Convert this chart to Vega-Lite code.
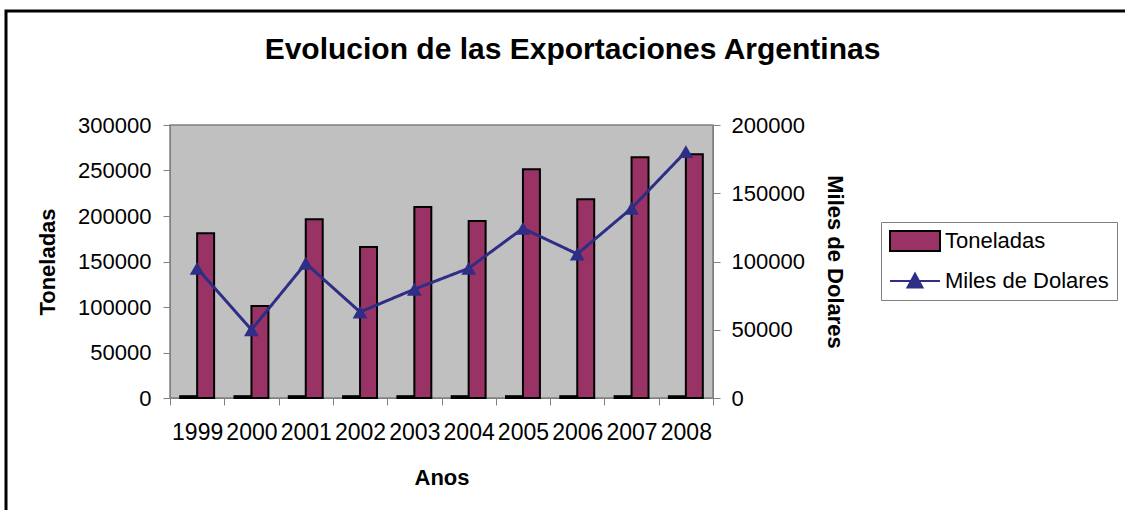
{
  "$schema": "https://vega.github.io/schema/vega-lite/v6.json",
  "width": 543,
  "height": 273,
  "autosize": {"type": "none"},
  "padding": {"left": 170, "top": 125, "right": 412, "bottom": 112},
  "background": "white",
  "config": {
    "font": "Liberation Sans",
    "view": {"fill": "#C0C0C0", "stroke": "#808080", "strokeWidth": 1.5},
    "legend": {"strokeWidth": 3}
  },
  "title": {
    "text": "Evolucion de las Exportaciones Argentinas",
    "fontSize": 30,
    "fontWeight": "bold",
    "font": "Liberation Sans",
    "color": "black",
    "anchor": "middle",
    "dx": 131,
    "offset": -55
  },
  "data": {
    "values": [
      {"anio": "1999", "Toneladas": 181000, "Miles de Dolares": 95000, "Otros": 2000},
      {"anio": "2000", "Toneladas": 101000, "Miles de Dolares": 50000, "Otros": 2000},
      {"anio": "2001", "Toneladas": 196500, "Miles de Dolares": 98700, "Otros": 2000},
      {"anio": "2002", "Toneladas": 166000, "Miles de Dolares": 63000, "Otros": 2000},
      {"anio": "2003", "Toneladas": 210000, "Miles de Dolares": 79700, "Otros": 2000},
      {"anio": "2004", "Toneladas": 194500, "Miles de Dolares": 95000, "Otros": 2000},
      {"anio": "2005", "Toneladas": 251300, "Miles de Dolares": 124300, "Otros": 2000},
      {"anio": "2006", "Toneladas": 218400, "Miles de Dolares": 105500, "Otros": 2000},
      {"anio": "2007", "Toneladas": 264500, "Miles de Dolares": 139000, "Otros": 2000},
      {"anio": "2008", "Toneladas": 267800, "Miles de Dolares": 180500, "Otros": 2000}
    ]
  },
  "encoding": {
    "x": {
      "field": "anio",
      "type": "nominal",
      "scale": {"paddingInner": 0, "paddingOuter": 0},
      "axis": {
        "title": "Anos",
        "titleFontSize": 22,
        "titleFontWeight": "bold",
        "titleColor": "black",
        "titlePadding": 23,
        "labelAngle": 0,
        "labelFontSize": 23,
        "labelColor": "black",
        "labelPadding": 16,
        "tickBand": "extent",
        "tickSize": 7,
        "tickColor": "#808080",
        "domainColor": "#808080",
        "grid": false
      }
    }
  },
  "layer": [
    {
      "transform": [{"fold": ["Otros", "Toneladas"], "as": ["serie", "valor"]}],
      "mark": {"type": "bar", "stroke": "black", "strokeWidth": 2},
      "encoding": {
        "xOffset": {"field": "serie", "type": "nominal", "scale": {"domain": ["Otros", "Toneladas"], "paddingInner": 0, "paddingOuter": 0.6}},
        "y": {
          "field": "valor",
          "type": "quantitative",
          "scale": {"domain": [0, 300000], "nice": false},
          "axis": {
            "title": "Toneladas",
            "titleFontSize": 22,
            "titleFontWeight": "bold",
            "titleColor": "black",
            "titlePadding": 18,
            "values": [0, 50000, 100000, 150000, 200000, 250000, 300000],
            "format": "d",
            "labelFontSize": 22,
            "labelColor": "black",
            "labelPadding": 12,
            "tickSize": 7,
            "tickColor": "#808080",
            "domainColor": "#808080",
            "grid": false
          }
        },
        "color": {
          "field": "serie",
          "type": "nominal",
          "scale": {"domain": ["Toneladas", "Miles de Dolares", "Otros"], "range": ["#993366", "#2E2E86", "#000000"]},
          "legend": {
            "orient": "none",
            "legendX": 711,
            "legendY": 97,
            "title": null,
            "values": ["Toneladas", "Miles de Dolares"],
            "strokeColor": "#808080",
            "fillColor": "white",
            "padding": 8,
            "labelFontSize": 22,
            "labelFont": "Liberation Sans",
            "labelColor": "black",
            "labelLimit": 400,
            "symbolType": "M-1,-1H4V1H-1Z",
            "symbolSize": 400,
            "symbolStrokeWidth": 2,
            "symbolStrokeColor": "black",
            "labelOffset": 34,
            "rowPadding": 14,
            "encode": {
              "legend": {"update": {"strokeWidth": {"value": 1}}},
              "symbols": {
                "update": {
                  "shape": {"signal": "datum.value === 'Toneladas' ? 'M-1,-1H4V1H-1Z' : 'M-1,0H4M0.75,0.65L1.5,-0.75L2.25,0.65Z'"},
                  "stroke": {"signal": "datum.value === 'Toneladas' ? 'black' : '#2E2E86'"},
                  "strokeWidth": {"value": 2},
                  "opacity": {"value": 1}
                }
              }
            }
          }
        }
      }
    },
    {
      "layer": [
        {
          "mark": {"type": "line", "strokeWidth": 3, "color": "#2E2E86"},
          "encoding": {
            "y": {"field": "Miles de Dolares", "type": "quantitative"},
            "strokeDash": {
              "datum": "marco",
              "scale": {"domain": ["marco"], "range": [[1, 0]]},
              "legend": {
                "orient": "none",
                "legendX": -164,
                "legendY": -114,
                "title": null,
                "padding": 1500,
                "strokeColor": "black",
                "symbolOpacity": 0,
                "labelExpr": "''",
                "labelColor": "transparent",
                "encode": {"legend": {"update": {"strokeWidth": {"value": 3}}}}
              }
            }
          }
        },
        {
          "mark": {"type": "point", "shape": "triangle-up", "filled": true, "size": 220, "opacity": 1, "color": "#2E2E86"},
          "encoding": {
            "y": {"field": "Miles de Dolares", "type": "quantitative"}
          }
        }
      ],
      "encoding": {
        "y": {
          "field": "Miles de Dolares",
          "type": "quantitative",
          "scale": {"domain": [0, 200000], "nice": false},
          "axis": {
            "orient": "right",
            "title": "Miles de Dolares",
            "titleFontSize": 22,
            "titleFontWeight": "bold",
            "titleColor": "black",
            "titlePadding": 18,
            "values": [0, 50000, 100000, 150000, 200000],
            "format": "d",
            "labelFontSize": 22,
            "labelColor": "black",
            "labelPadding": 11,
            "tickSize": 7,
            "tickColor": "#808080",
            "domainColor": "#808080",
            "grid": false
          }
        }
      }
    }
  ],
  "resolve": {"scale": {"y": "independent"}}
}
